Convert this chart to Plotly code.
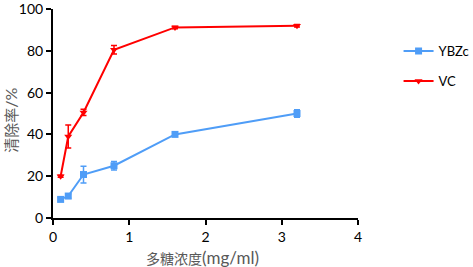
import plotly.graph_objects as go

conc = [0.1, 0.2, 0.4, 0.8, 1.6, 3.2]
ybzc = [8.9, 10.5, 20.8, 25.0, 40.0, 50.0]
ybzc_err = [0.8, 1.0, 4.0, 2.0, 0.8, 1.8]
vc = [20.0, 39.0, 50.5, 80.5, 91.2, 92.0]
vc_err = [0.5, 5.5, 1.5, 2.0, 0.6, 0.6]
x_ticks = [0, 1, 2, 3, 4]
y_ticks = [0, 20, 40, 60, 80, 100]

blue = "#4F9DF7"
red = "#FF0000"
font = "Lato, 'Noto Sans CJK SC', sans-serif"
title_color = "#595959"

fig = go.Figure()
fig.add_trace(go.Scatter(
    x=conc, y=ybzc, name="YBZc", mode="lines+markers", legendgroup="a",
    line=dict(color=blue, width=2),
    marker=dict(symbol="square", size=7, color=blue),
    error_y=dict(type="data", array=ybzc_err, color=blue, thickness=1.5, width=3),
))
fig.add_trace(go.Scatter(
    x=conc, y=vc, name="VC", mode="lines+markers", legendgroup="b",
    line=dict(color=red, width=2),
    marker=dict(symbol="triangle-down", size=7, color=red),
    error_y=dict(type="data", array=vc_err, color=red, thickness=1.5, width=3),
))

fig.update_layout(
    width=473, height=267,
    margin=dict(l=53, r=115, t=9, b=49, autoexpand=False),
    plot_bgcolor="white", paper_bgcolor="white",
    font=dict(family=font, size=14, color="black"),
    showlegend=True,
    legend=dict(x=1.133, y=0.87, xanchor="left", yanchor="top",
                font=dict(size=13, color="black"), tracegroupgap=10,
                traceorder="grouped", itemwidth=30,
                bgcolor="rgba(0,0,0,0)"),
    annotations=[
        dict(text="多糖浓度<span style='font-size:17px'>(mg/ml)</span>",
             x=0.49, xref="paper", y=-0.13, yref="paper",
             xanchor="center", yanchor="top", showarrow=False,
             font=dict(size=14, color=title_color)),
        dict(text="清除率<span style='font-size:16px'>/%</span>",
             x=-0.138, xref="paper", y=0.47, yref="paper",
             xanchor="center", yanchor="middle", showarrow=False, textangle=-90,
             font=dict(size=15, color=title_color)),
    ],
)
fig.update_xaxes(
    range=[0, 4], tickvals=x_ticks, showgrid=False, zeroline=False,
    showline=True, linecolor="black", linewidth=2,
    ticks="outside", ticklen=5, tickwidth=2, tickcolor="black",
    tickfont=dict(size=14), ticklabeloverflow="allow",
)
fig.update_yaxes(
    range=[0, 100], tickvals=y_ticks, showgrid=False, zeroline=False,
    showline=True, linecolor="black", linewidth=2,
    ticks="outside", ticklen=5, tickwidth=2, tickcolor="black",
    tickfont=dict(size=14), ticklabeloverflow="allow",
)

fig.write_html("out.html", config={"displayModeBar": False},
               post_script="document.body.style.margin='0';document.body.style.overflow='hidden';")
